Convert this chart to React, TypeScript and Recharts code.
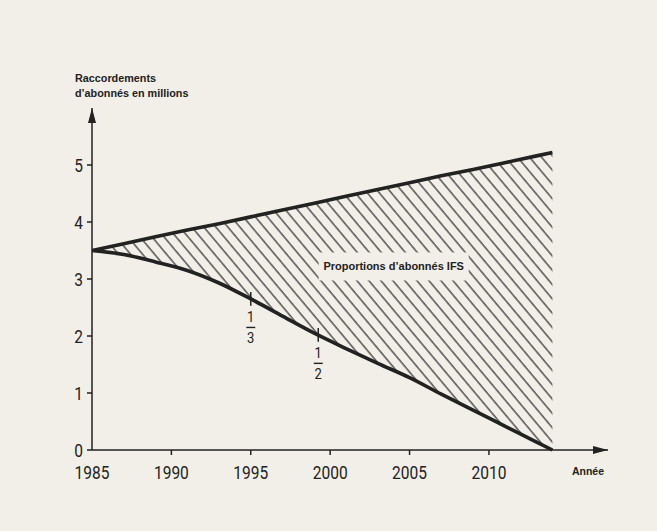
import React from "react";
import {
  ComposedChart, Area, Line, XAxis, YAxis, ReferenceLine, ReferenceDot
} from "recharts";

// values (millions of subscriber lines)
const years = [1985, 1987, 1989, 1991, 1993, 1995, 1997, 1999, 2001, 2003, 2005, 2007, 2009, 2011, 2013, 2014];
const totalLines = [3.5, 3.62, 3.74, 3.86, 3.97, 4.09, 4.21, 4.33, 4.45, 4.57, 4.69, 4.81, 4.92, 5.04, 5.16, 5.22];
const classicLines = [3.5, 3.43, 3.3, 3.15, 2.93, 2.65, 2.35, 2.05, 1.78, 1.52, 1.27, 0.98, 0.7, 0.42, 0.14, 0];

const yearTicks = [1985, 1990, 1995, 2000, 2005, 2010];
const valueTicks = [0, 1, 2, 3, 4, 5];

const fractionMarks = [
  { year: 1995, value: 2.65, num: "1", den: "3" },
  { year: 1999.25, value: 2.02, num: "1", den: "2" },
];
const areaLabel = { year: 2004, value: 3.22, text: "Proportions d\u2019abonnés IFS" };

const data = years.map((year, i) => ({
  year,
  total: totalLines[i],
  classic: classicLines[i],
  range: [classicLines[i], totalLines[i]],
}));

const BG = "#f1efe7";
const INK = "#222222";
const DIGITS = "Roboto, 'DejaVu Sans', sans-serif";
const BOLD = "'Liberation Sans', Arial, sans-serif";
const MARK_HALF = 0.12;
const SQUEEZE = 0.84; // the scan uses a condensed, DIN-like face

function YearTick(props: any) {
  const { x, y, payload } = props;
  return (
    <g>
      {payload.value !== 1985 && (
        <line x1={x} x2={x} y1={y - 16} y2={y - 11} stroke={INK} strokeWidth={1.5} />
      )}
      <g transform={`translate(${x},${y}) scale(${SQUEEZE},1)`}>
        <text x={0} y={0} dy="0.71em" textAnchor="middle" fontSize={18.5} fontFamily={DIGITS} fill={INK}>
          {payload.value}
        </text>
      </g>
    </g>
  );
}

function ValueTick(props: any) {
  const { x, y, payload } = props;
  return (
    <g transform={`translate(${x},${y}) scale(${SQUEEZE},1)`}>
      <text x={0} y={0} dy="0.355em" textAnchor="end" fontSize={18.5} fontFamily={DIGITS} fill={INK}>
        {payload.value}
      </text>
    </g>
  );
}

function Fraction(props: any) {
  const { cx, cy, num, den } = props;
  return (
    <g>
      <g transform={`translate(${cx},${cy}) scale(${SQUEEZE},1)`} fontFamily={DIGITS} fontSize={15.5} fill={INK} textAnchor="middle">
        <text x={0} y={23.5}>{num}</text>
        <text x={0} y={44}>{den}</text>
      </g>
      <line x1={cx - 4.5} x2={cx + 4.5} y1={cy + 28.5} y2={cy + 28.5} stroke={INK} strokeWidth={1.4} />
    </g>
  );
}

export default function App() {
  return (
    <div style={{ position: "absolute", left: 0, top: 0, width: 657, height: 531, background: BG }}>
      <ComposedChart
        width={657}
        height={531}
        data={data}
        margin={{ top: 108, right: 49, left: 52, bottom: 51 }}
      >
        <defs>
          <pattern id="hatch" patternUnits="userSpaceOnUse" width={9.2} height={20} patternTransform="rotate(-40)">
            <line x1={1} x2={1} y1={0} y2={20} stroke="#222222" strokeWidth={1.15} />
          </pattern>
          <marker id="arrow" markerUnits="userSpaceOnUse" markerWidth={15} markerHeight={8}
            refX={15} refY={4} orient="auto-start-reverse">
            <path d="M0,0 L15,4 L0,8 Z" fill={INK} />
          </marker>
        </defs>

        <XAxis
          dataKey="year"
          type="number"
          domain={[1985, 2017.5]}
          ticks={yearTicks}
          allowDataOverflow
          height={30}
          tickSize={5}
          tickMargin={11}
          tickLine={false}
          tick={<YearTick />}
          axisLine={{ stroke: INK, strokeWidth: 1.5, markerEnd: "url(#arrow)" }}
          label={{
            content: () => (
              <text x={588} y={475} textAnchor="middle" fontSize={10.5} fontWeight="bold" fontFamily={BOLD} fill={INK}>
                Année
              </text>
            ),
          }}
        />
        <YAxis
          type="number"
          domain={[0, 6]}
          ticks={valueTicks}
          width={40}
          tickSize={5}
          tickMargin={4}
          tick={<ValueTick />}
          tickLine={{ stroke: INK, strokeWidth: 1.5 }}
          axisLine={{ stroke: INK, strokeWidth: 1.5, markerStart: "url(#arrow)" }}
          label={{
            content: () => (
              <text x={75} y={82} fontSize={10.8} fontWeight="bold" fontFamily={BOLD} fill={INK}>
                <tspan x={75} y={82}>Raccordements</tspan>
                <tspan x={75} y={97}>d&rsquo;abonnés en millions</tspan>
              </text>
            ),
          }}
        />

        <Area
          dataKey="range"
          type="monotone"
          stroke="none"
          fill="url(#hatch)"
          fillOpacity={1}
          isAnimationActive={false}
          activeDot={false}
        />
        <Line dataKey="total" type="linear" stroke={INK} strokeWidth={3.6} dot={false} activeDot={false} isAnimationActive={false} />
        <Line dataKey="classic" type="monotone" stroke={INK} strokeWidth={3.6} dot={false} activeDot={false} isAnimationActive={false} />

        {fractionMarks.map((m) => (
          <ReferenceLine
            key={"tick" + m.den}
            segment={[{ x: m.year, y: m.value - MARK_HALF }, { x: m.year, y: m.value + MARK_HALF }]}
            stroke={INK}
            strokeWidth={1.5}
          />
        ))}
        {fractionMarks.map((m) => (
          <ReferenceDot
            key={"frac" + m.den}
            x={m.year}
            y={m.value}
            r={0}
            shape={(p: any) => <Fraction {...p} num={m.num} den={m.den} />}
          />
        ))}
        <ReferenceDot
          x={areaLabel.year}
          y={areaLabel.value}
          r={0}
          shape={(p: any) => (
            <g>
              <rect x={p.cx - 75} y={p.cy - 14} width={150} height={28} fill={BG} />
              <text x={p.cx} y={p.cy + 4} textAnchor="middle" fontSize={11} fontWeight="bold" fontFamily={BOLD} fill={INK}>
                {areaLabel.text}
              </text>
            </g>
          )}
        />
      </ComposedChart>
    </div>
  );
}
